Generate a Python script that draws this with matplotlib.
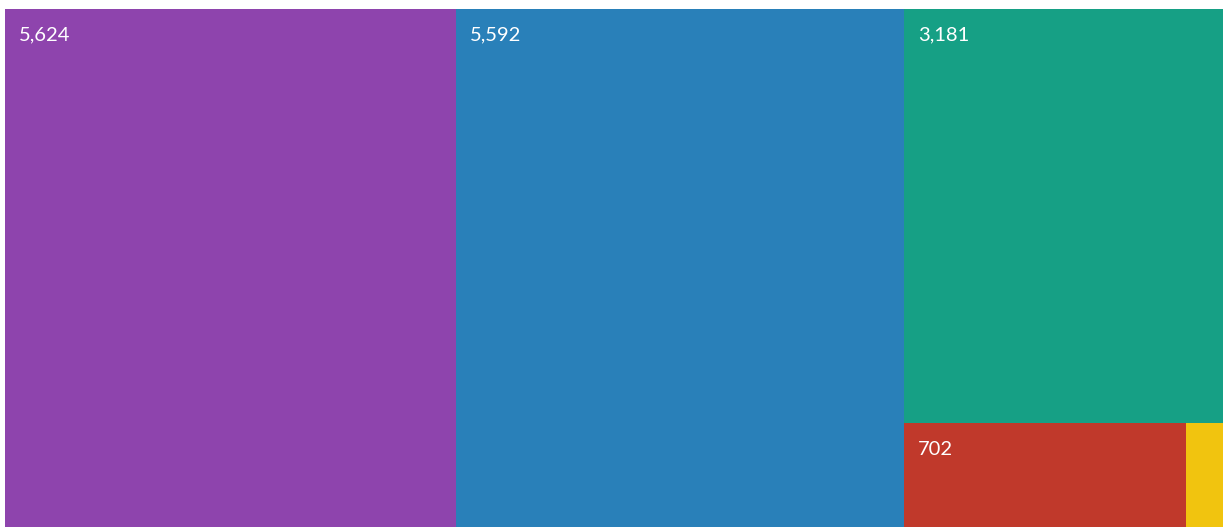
import matplotlib
matplotlib.use('Agg')
import matplotlib.pyplot as plt
from matplotlib.patches import Rectangle

# treemap data
labels = ['5,624', '5,592', '3,181', '702', '']
values = [5624, 5592, 3181, 702, 93]
colors = ['#8e44ad', '#2980b9', '#16a085', '#c0392b', '#f1c40f']

W, H = 1218, 518


def worst(row, side):
    s = sum(row)
    return max(max(side * side * r / (s * s), s * s / (side * side * r)) for r in row)


def layout_row(row, x, y, w, h):
    # lay the row along the shorter side
    s = sum(row)
    out = []
    if w >= h:
        rw = s / h
        yy = y
        for r in row:
            rh = r / rw
            out.append((x, yy, rw, rh))
            yy += rh
        return out, (x + rw, y, w - rw, h)
    rh = s / w
    xx = x
    for r in row:
        rw = r / rh
        out.append((xx, y, rw, rh))
        xx += rw
    return out, (x, y + rh, w, h - rh)


def squarify(vals, x, y, w, h):
    total = sum(vals)
    areas = [v * w * h / total for v in vals]
    rects = []
    rest = (x, y, w, h)
    row = []
    i = 0
    while i < len(areas):
        side = min(rest[2], rest[3])
        a = areas[i]
        if not row or worst(row + [a], side) <= worst(row, side):
            row.append(a)
            i += 1
        else:
            r, rest = layout_row(row, *rest)
            rects += r
            row = []
    if row:
        r, rest = layout_row(row, *rest)
        rects += r
    return rects


rects = squarify(values, 0, 0, W, H)

fig = plt.figure(figsize=(12.23, 5.27), dpi=100)
ax = fig.add_axes([5 / 1223, 0, W / 1223, H / 527])
for (x, y, w, h), lab, c in zip(rects, labels, colors):
    ax.add_patch(Rectangle((x, y), w, h, facecolor=c, edgecolor='none'))
    if lab:
        ax.text(x + 14, y + 31.5, lab, color='white', fontsize=14.5,
                family='Lato', va='baseline', ha='left')
ax.set_xlim(0, W)
ax.set_ylim(H, 0)
ax.axis('off')

fig.savefig('out.png', dpi=100)
